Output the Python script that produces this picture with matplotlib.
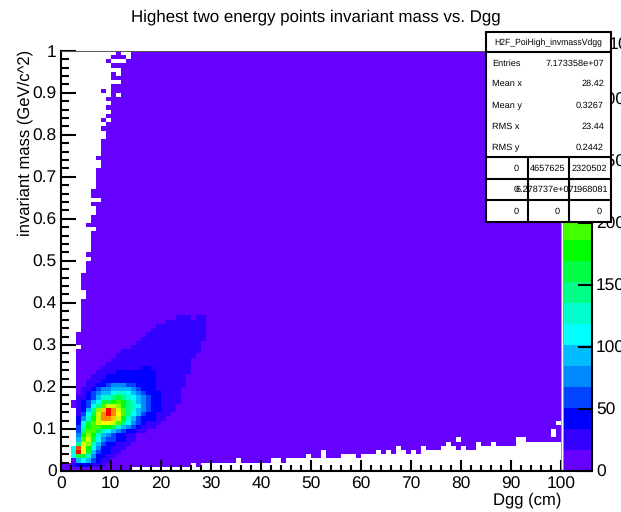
import numpy as np
import matplotlib
matplotlib.use("Agg")
import matplotlib.pyplot as plt
from matplotlib.colors import ListedColormap, BoundaryNorm
from matplotlib.patches import Rectangle

plt.rcParams['font.family'] = ['Liberation Sans', 'DejaVu Sans']
plt.rcParams['text.hinting'] = 'none'

W, H = 621, 512

band_colors = ['#6600ff', '#3300ff', '#0000ff', '#0044ff', '#0088ff', '#00bbff', '#00ffff',
               '#00ffcc', '#00ff88', '#00ff44', '#00ff00', '#44ff00', '#88ff00', '#ccff00',
               '#ffff00', '#ffcc00', '#ff8800', '#ff4400', '#ff0000', '#cc0000']
band_step = 16.95

# colour band of each bin, one string per y bin from the bottom, x bin 0 first
band_rows = [
    "0",
    "001222111",
    "0005653211",
    "0069974" + "2211",
    "007ie9532211",
    "006hea6422111",
    "0008dc75322111",
    "0005bd96433221" + "1",
    "0004aca75432211",
    "00038bb97654322" + "11",
    "00037abbaa975432" + "111",
    "000269bdeedb8643" + "2111",
    "000247" + "adggfda753" + "222" + "11",
    "000136" + "9dgigeb8653" + "22" + "111",
    "000125" + "8cfigdb87543" + "22" + "111",
    "000123" + "68bddca87" + "643" + "22" + "111",
    "000123" + "5699aba87" + "543" + "22" + "1111",
    "00011235" + "77898" + "7654" + "3" + "22" + "1111",
    "00001234" + "55" + "6776" + "543" + "222" + "1111",
    "000011234" + "4" + "5555" + "43" + "222" + "11111",
    "0000011" + "22" + "3444" + "33" + "2222" + "111111",
    "00000111" + "22222222222" + "111111",
    "000000111" + "2222222222" + "111111",
    "0000000" + "1111" + "22222222" + "1111111",
    "00000000" + "11111111" + "22" + "11111111",
    "000000000" + "11111111111111111",
    "0000000000" + "1111111111111111",
    "00000000000" + "1111111111111111",
    "000000000000" + "1111111111111111",
    "00000000000000" + "11111111111111",
    "000000000000000" + "1111111111111",
    "0000000000000000" + "1111111111111",
    "00000000000000000" + "111111111111",
    "000000000000000000" + "11111111111",
    "0000000000000000000" + "1111111111",
    "000000000000000000000" + "11111111",
    "00000000000000000000000" + "111011",
]

# first filled x bin of each y bin
left_edge = [0, 0, 2, 2, 2, 2, 3, 3, 3, 3, 3, 3, 3, 3, 3, 2, 2, 3, 3, 3,
             3, 3, 3, 3, 3, 3, 3, 3, 3, 4, 3, 3, 3, 4, 4, 4, 4, 4, 4, 4,
             4, 5, 5, 4, 4, 4, 4, 5, 5, 5, 6, 5, 6, 6, 6, 6, 6, 7, 5, 6,
             6, 7, 7, 6, 8, 6, 6, 7, 7, 7, 7, 7, 8, 8, 7, 8, 8, 8, 8, 9,
             9, 8, 9, 8, 9, 10, 9, 10, 9, 10, 8, 10, 12, 10, 10, 12, 10, 9, 10, 11]

# first filled y bin of each x bin
bottom_edge = [0, 0, 0, 0, 0, 0, 0, 0, 0, 0, 0, 0, 0, 0, 1, 1, 1, 1, 1, 1,
               1, 1, 1, 1, 1, 1, 2, 1, 2, 2, 2, 2, 2, 2, 2, 3, 2, 2, 2, 2,
               2, 2, 3, 3, 2, 3, 3, 3, 3, 4, 3, 3, 5, 3, 3, 3, 4, 4, 4, 3,
               4, 4, 4, 5, 4, 5, 4, 6, 5, 4, 5, 4, 6, 5, 5, 5, 6, 7, 6, 5,
               6, 5, 5, 7, 6, 6, 7, 6, 6, 6, 6, 8, 8, 7, 7, 7, 7, 7, 7, 7]

# single empty bins inside the filled part (x bin, y bin)
empty_bins = [(9, 83), (9, 90), (11, 89), (11, 94), (10, 97), (11, 97), (12, 97),
              (13, 98), (12, 99), (13, 99), (79, 7), (98, 8), (98, 9), (99, 11)]

stats_names = ['Entries', 'Mean x', 'Mean y', 'RMS x', 'RMS y']
stats_values = ['7.173358e+07', '28.42', '0.3267', '23.44', '0.2442']
stats_title = 'H2F_PoiHigh_invmassVdgg'
cell_row1 = ['0', '4657625', '2320502']
cell_row2 = ['0', '6.278737e+07', '1968081']
cell_row3 = ['0', '0', '0']
z_ticks = [0, 50, 100, 150, 200, 250, 300]

# fill the grid
grid = np.full((100, 100), band_step * 0.5)
for j, row in enumerate(band_rows):
    for i, c in enumerate(row):
        grid[j, i] = (int(c, 20) + 0.5) * band_step
for j in range(100):
    grid[j, :left_edge[j]] = np.nan
for i in range(100):
    grid[:bottom_edge[i], i] = np.nan
for i, j in empty_bins:
    grid[j, i] = np.nan
grid = np.ma.masked_invalid(grid)

bounds = np.arange(21) * band_step
cmap = ListedColormap(band_colors)
cmap.set_bad('white')
norm = BoundaryNorm(bounds, cmap.N)


def axes_px(x0, y0, x1, y1):
    return [x0 / W, 1 - y1 / H, (x1 - x0) / W, (y1 - y0) / H]


fig = plt.figure(figsize=(W / 100, H / 100), dpi=100)

ax = fig.add_axes(axes_px(60.7, 50.7, 561, 471))
xe = np.arange(101)
ye = np.arange(101) / 100
ax.pcolormesh(xe, ye, grid, cmap=cmap, norm=norm, antialiased=False, linewidth=0, rasterized=True)
ax.set_xlim(0, 100)
ax.set_ylim(0, 1)
ax.set_xticks(np.arange(0, 101, 10))
ax.set_xticks(np.arange(0, 101, 2), minor=True)
ax.set_yticks(np.arange(0, 1.01, 0.1))
ax.set_yticks(np.arange(0, 1.001, 0.02), minor=True)
ax.set_xticklabels([str(v) for v in range(0, 101, 10)])
ax.set_yticklabels(['0', '0.1', '0.2', '0.3', '0.4', '0.5', '0.6', '0.7', '0.8', '0.9', '1'])
ax.tick_params(axis='x', which='major', direction='in', length=8, width=1.5, labelsize=12.5, pad=4)
ax.tick_params(axis='x', which='minor', direction='in', length=4, width=1.5)
ax.tick_params(axis='y', which='major', direction='in', length=10.8, width=1.5, labelsize=12.5, pad=3)
ax.tick_params(axis='y', which='minor', direction='in', length=5.8, width=1.5)
for s in ['left', 'bottom']:
    ax.spines[s].set_linewidth(1.5)
ax.spines['top'].set_linewidth(0.7)
ax.spines['top'].set_color('#555555')
ax.spines['right'].set_linewidth(0.7)
ax.spines['right'].set_color('#999999')

cax = fig.add_axes(axes_px(563, 50.7, 592, 471))
cax.pcolormesh([0, 1], bounds, (bounds[:-1] + band_step / 2).reshape(-1, 1), cmap=cmap, norm=norm,
               antialiased=False, linewidth=0)
cax.set_xlim(0, 1)
cax.set_ylim(0, 20 * band_step)
cax.set_xticks([])
cax.yaxis.tick_right()
cax.set_yticks(z_ticks)
cax.set_yticklabels([str(v) for v in z_ticks])
cax.tick_params(axis='y', direction='in', length=10, width=1.5, labelsize=12.5, pad=3)
cax.spines['right'].set_linewidth(1.5)
cax.spines['bottom'].set_linewidth(1.5)
cax.spines['left'].set_linewidth(0.7)
cax.spines['left'].set_color('#999999')
cax.spines['top'].set_visible(False)

ov = fig.add_axes([0, 0, 1, 1], facecolor='none')
ov.set_xlim(0, W)
ov.set_ylim(H, 0)
ov.axis('off')

ov.text(316, 17, 'Highest two energy points invariant mass vs. Dgg', ha='center', va='center', fontsize=12.2)
ov.text(561, 500, 'Dgg (cm)', ha='right', va='center', fontsize=12)
ov.text(25, 50, 'invariant mass (GeV/c^2)', ha='center', va='top', rotation=90, fontsize=12)
ov.text(598, 43, '\u00d710$^3$', ha='left', va='center', fontsize=12.5, clip_on=False)

# stats box
box_lw = 1.5
ov.add_patch(Rectangle((486, 32), 124.7, 189.7, facecolor='white', edgecolor='black', linewidth=box_lw, zorder=3))
for y in [52, 157, 179, 200]:
    ov.plot([486, 610.7], [y, y], color='black', lw=box_lw, zorder=4, solid_capstyle='butt')
for x in [527.7, 569.3]:
    ov.plot([x, x], [157, 221.7], color='black', lw=box_lw, zorder=4, solid_capstyle='butt')

ov.text(548.5, 42.5, stats_title, ha='center', va='center', fontsize=6.2, zorder=5)
stat_y = [64, 84, 105.7, 127, 148]
for y, name, val in zip(stat_y, stats_names, stats_values):
    ov.text(492, y, name, ha='left', va='center', fontsize=6.6, zorder=5)
    ov.text(604, y, val, ha='right', va='center', fontsize=6.6, zorder=5)

for y, row, xs in [(169, cell_row1, [516, 547.5, 589.5]),
                   (190, cell_row2, [516, 545, 590]),
                   (211.6, cell_row3, [516, 557, 599])]:
    for x, t in zip(xs, row):
        ov.text(x, y, t, ha='center', va='center', fontsize=6.6, zorder=5)

fig.savefig('out.png', dpi=100)
